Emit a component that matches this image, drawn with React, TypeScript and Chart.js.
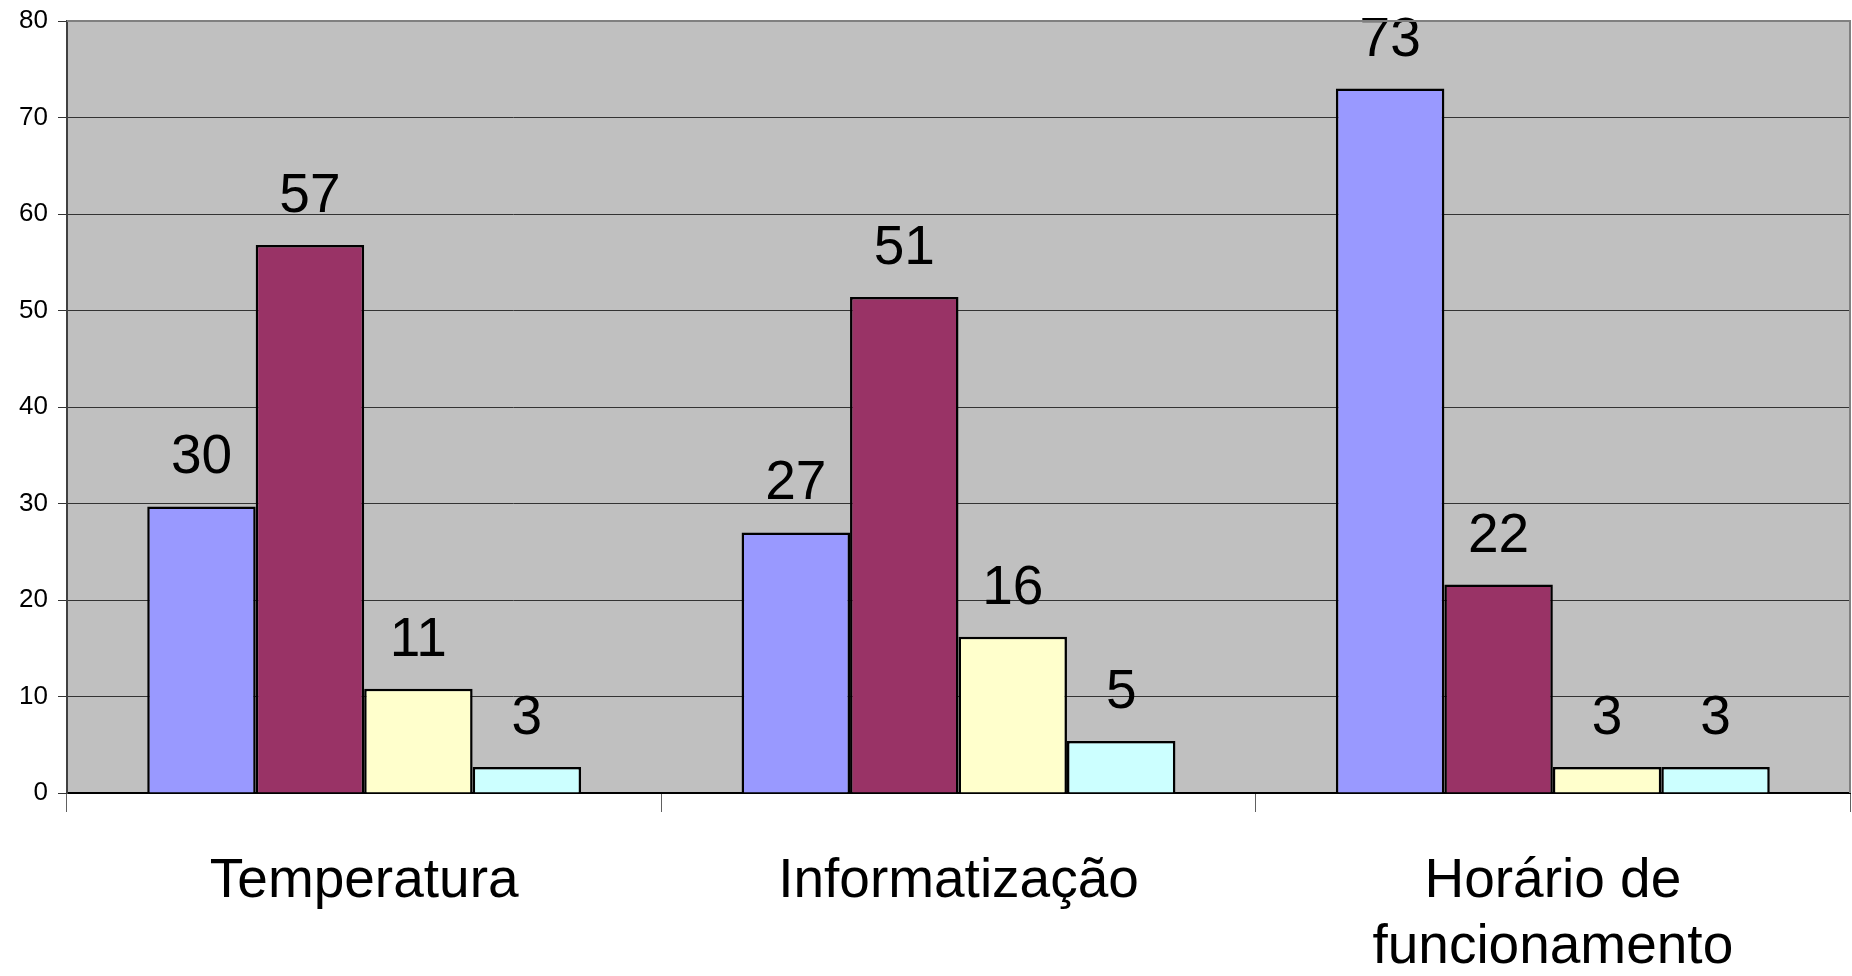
import React, { useEffect, useRef } from "react";
import { Chart, registerables } from "chart.js";

Chart.register(...registerables);

const categories: (string | string[])[] = ["Temperatura", "Informatização", ["Horário de", "funcionamento"]];
const serie1: number[] = [29.7, 27.0, 73.0];
const serie2: number[] = [56.8, 51.4, 21.6];
const serie3: number[] = [10.8, 16.2, 2.7];
const serie4: number[] = [2.7, 5.4, 2.7];
const seriesNames: string[] = ["Série 1", "Série 2", "Série 3", "Série 4"];
const seriesColors: string[] = ["#9999FF", "#993366", "#FFFFCC", "#CCFFFF"];
const yTicks: number[] = [0, 10, 20, 30, 40, 50, 60, 70, 80];

const FONT = "'Liberation Sans', Arial, sans-serif";

const plotBg = {
  id: "plotBg",
  beforeDraw(chart: any) {
    const { ctx, chartArea } = chart;
    ctx.save();
    ctx.fillStyle = "#C0C0C0";
    ctx.fillRect(chartArea.left, chartArea.top, chartArea.right - chartArea.left, chartArea.bottom - chartArea.top);
    ctx.restore();
  },
  afterDraw(chart: any) {
    const { ctx, chartArea } = chart;
    ctx.save();
    ctx.strokeStyle = "#808080";
    ctx.lineWidth = 2;
    ctx.beginPath();
    ctx.moveTo(chartArea.left, chartArea.top);
    ctx.lineTo(chartArea.right, chartArea.top);
    ctx.lineTo(chartArea.right, chartArea.bottom);
    ctx.stroke();
    ctx.restore();
  },
};

const valueLabels = {
  id: "valueLabels",
  afterDatasetsDraw(chart: any) {
    const { ctx } = chart;
    ctx.save();
    ctx.fillStyle = "#000";
    ctx.font = `55px ${FONT}`;
    ctx.textAlign = "center";
    ctx.textBaseline = "alphabetic";
    chart.data.datasets.forEach((ds: any, i: number) => {
      const meta = chart.getDatasetMeta(i);
      meta.data.forEach((bar: any, j: number) => {
        const v = ds.data[j];
        ctx.fillText(String(Math.round(v)), bar.x, bar.y - 33);
      });
    });
    ctx.restore();
  },
};

export default function App() {
  const ref = useRef<HTMLCanvasElement>(null);
  useEffect(() => {
    document.body.style.margin = "0";
    const seriesData = [serie1, serie2, serie3, serie4];
    const chart = new Chart(ref.current as HTMLCanvasElement, {
      type: "bar",
      data: {
        labels: categories,
        datasets: seriesData.map((d, i) => ({
          label: seriesNames[i],
          data: d,
          backgroundColor: seriesColors[i],
          borderColor: "#000",
          borderWidth: 2.5,
          categoryPercentage: 0.73,
          barPercentage: 1,
        })),
      },
      options: {
        animation: false,
        responsive: true,
        maintainAspectRatio: false,
        layout: { padding: { top: 21, right: 2, left: 0, bottom: 0 } },
        plugins: { legend: { display: false }, tooltip: { enabled: false } },
        scales: {
          x: {
            afterFit(scale: any) {
              scale.height = 183;
              scale.paddingLeft = 0;
              scale.paddingRight = 0;
            },
            grid: {
              drawOnChartArea: false,
              drawTicks: true,
              tickLength: 19,
              color: "#606060",
              offset: true,
            },
            border: { color: "#000", width: 2 },
            ticks: {
              color: "#000",
              padding: 37,
              font: { family: FONT, size: 55, lineHeight: 1.2 },
              maxRotation: 0,
              autoSkip: false,
            },
          },
          y: {
            min: 0,
            max: 80,
            afterFit(scale: any) {
              scale.width = 67;
              scale.paddingTop = 0;
              scale.paddingBottom = 0;
            },
            afterBuildTicks(scale: any) {
              scale.ticks = yTicks.map((v) => ({ value: v }));
            },
            grid: {
              color: "#333333",
              lineWidth: 1,
              tickLength: 9,
            },
            border: { color: "#404040", width: 2 },
            ticks: {
              color: "#000",
              padding: 10,
              font: { family: FONT, size: 26 },
            },
          },
        },
      },
      plugins: [plotBg, valueLabels],
    });
    return () => chart.destroy();
  }, []);
  return (
    <div style={{ position: "relative", width: "1852px", height: "976px" }}>
      <canvas ref={ref} />
    </div>
  );
}
